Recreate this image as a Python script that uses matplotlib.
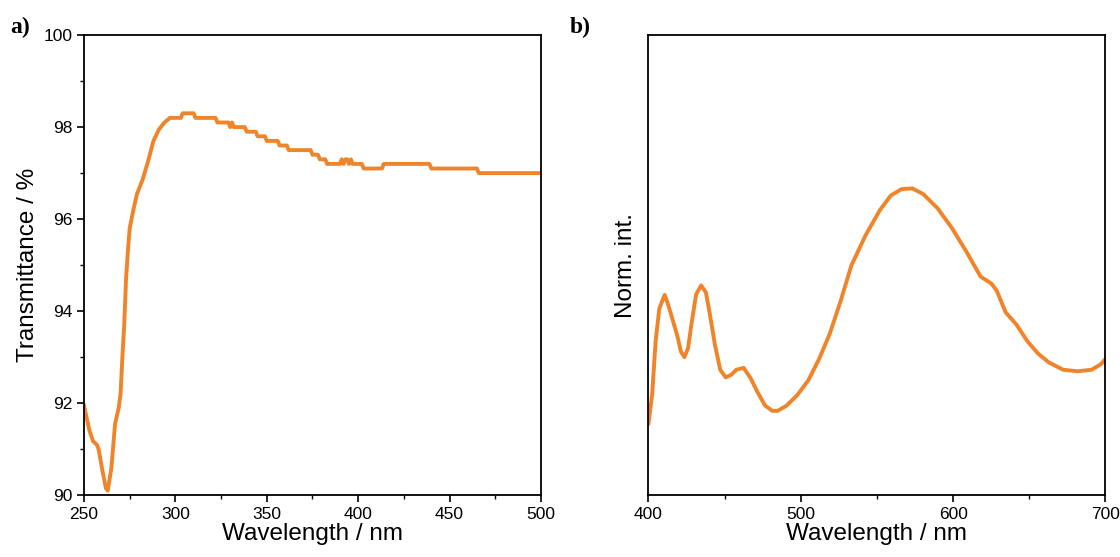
import matplotlib.pyplot as plt
from matplotlib.ticker import MultipleLocator, NullLocator

# panel a: transmittance (step-like instrument output)
wl_a = [250, 253, 255, 257, 258, 260, 262, 263, 265, 267, 269, 270, 271, 272, 273,
        274, 275, 277, 279, 282, 285, 288, 291, 294, 297, 303, 304, 310, 311, 322,
        323, 329, 330, 331, 332, 333, 338, 339, 344, 345, 349, 350, 356, 357, 361,
        362, 374, 375, 378, 379, 382, 383, 390, 391, 392, 393, 394, 395, 396, 397,
        402, 403, 413, 414, 439, 440, 465, 466, 500]
trans = [91.95, 91.4, 91.17, 91.1, 91.0, 90.55, 90.15, 90.1, 90.6, 91.55, 91.9, 92.2,
         93.0, 93.7, 94.7, 95.3, 95.8, 96.2, 96.55, 96.85, 97.25, 97.7, 97.95, 98.1,
         98.2, 98.2, 98.3, 98.3, 98.2, 98.2, 98.1, 98.1, 98.0, 98.1, 98.0, 98.0, 98.0,
         97.9, 97.9, 97.8, 97.8, 97.7, 97.7, 97.6, 97.6, 97.5, 97.5, 97.4, 97.4, 97.3,
         97.3, 97.2, 97.2, 97.3, 97.2, 97.3, 97.3, 97.2, 97.3, 97.2, 97.2, 97.1, 97.1,
         97.2, 97.2, 97.1, 97.1, 97.0, 97.0]

# panel b: normalised emission
wl_b = [400, 402.4, 404.7, 407.1, 410.6, 413, 416.5, 418.9, 421.3, 423.6, 426, 428.3,
        431.3, 434.6, 437.7, 440.1, 443.6, 447.1, 450.7, 454.2, 457.7, 462.5, 467.2,
        471.9, 476.6, 481.3, 484.8, 490.7, 497.8, 504.9, 512, 519, 526.1, 533.2, 542.6,
        552, 559.1, 566.2, 573.2, 580.3, 589.7, 599.2, 608.6, 618, 625.1, 628.6, 634.5,
        641.6, 648.6, 655.7, 662.8, 672.2, 681.6, 691, 697, 700]
norm_int = [0.234, 0.327, 0.503, 0.608, 0.653, 0.620, 0.561, 0.520, 0.468, 0.450, 0.480,
            0.561, 0.655, 0.684, 0.661, 0.596, 0.491, 0.409, 0.384, 0.392, 0.409, 0.415,
            0.380, 0.333, 0.292, 0.275, 0.275, 0.292, 0.327, 0.374, 0.444, 0.526, 0.632,
            0.749, 0.848, 0.930, 0.977, 0.998, 1.0, 0.982, 0.936, 0.871, 0.795, 0.713,
            0.690, 0.667, 0.596, 0.556, 0.503, 0.462, 0.433, 0.409, 0.404, 0.409, 0.427,
            0.444]

orange = '#F0842A'
plt.rcParams['font.family'] = ['Liberation Sans', 'DejaVu Sans']

fig = plt.figure(figsize=(11.2, 5.57), dpi=100)
ax1 = fig.add_axes([0.075, 0.111, 0.408, 0.826])
ax2 = fig.add_axes([0.579, 0.111, 0.408, 0.826])

ax1.plot(wl_a, trans, color=orange, lw=2.8)
ax1.set_xlim(250, 500)
ax1.set_ylim(90, 100)
ax1.xaxis.set_major_locator(MultipleLocator(50))
ax1.xaxis.set_minor_locator(MultipleLocator(25))
ax1.yaxis.set_major_locator(MultipleLocator(2))
ax1.yaxis.set_minor_locator(MultipleLocator(1))
ax1.set_xlabel('Wavelength / nm', fontsize=17.5, labelpad=1)
ax1.set_ylabel('Transmittance / %', fontsize=17.5, labelpad=3)

ax2.plot(wl_b, norm_int, color=orange, lw=2.8)
ax2.set_xlim(400, 700)
ax2.set_ylim(0, 1.5)
ax2.xaxis.set_major_locator(MultipleLocator(100))
ax2.xaxis.set_minor_locator(MultipleLocator(50))
ax2.yaxis.set_major_locator(NullLocator())
ax2.yaxis.set_minor_locator(NullLocator())
ax2.set_xlabel('Wavelength / nm', fontsize=17.5, labelpad=1)
ax2.set_ylabel('Norm. int.', fontsize=17.5, labelpad=8)

for ax in (ax1, ax2):
    for s in ax.spines.values():
        s.set_linewidth(1.3)
    ax.tick_params(which='major', direction='out', length=5, width=1.2, labelsize=12.5)
    ax.tick_params(which='minor', direction='out', length=3, width=1.0)

fig.text(0.009, 0.94, 'a)', fontsize=17, fontweight='bold', family='Liberation Serif')
fig.text(0.509, 0.94, 'b)', fontsize=17, fontweight='bold', family='Liberation Serif')

fig.savefig('out.png', dpi=100)
